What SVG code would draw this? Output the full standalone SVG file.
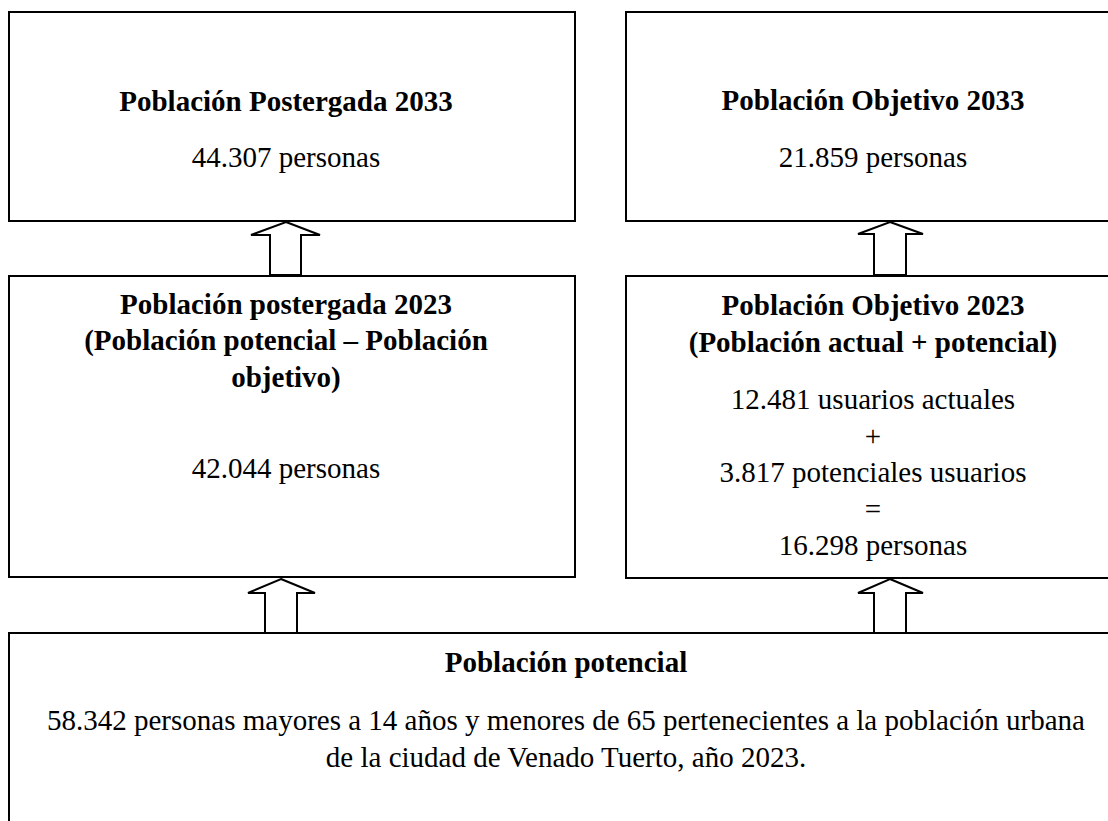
<svg xmlns="http://www.w3.org/2000/svg" width="1108" height="821" viewBox="0 0 1108 821">
<style>
.box{fill:#fff;stroke:#000;stroke-width:2}
.arr{fill:#fff;stroke:#000;stroke-width:2;stroke-linejoin:miter}
.t{font-family:"Liberation Serif","Times New Roman",serif;font-size:29px;fill:#000;text-anchor:middle}
.b{font-weight:bold}
</style>
<rect width="1108" height="821" fill="#fff"/>
<g id="node-postergada-2033">
<rect class="box" x="9" y="12" width="566" height="209"/>
<text class="t b" x="286" y="111">Población Postergada 2033</text>
<text class="t" x="286" y="167">44.307 personas</text>
</g>
<g id="node-objetivo-2033">
<rect class="box" x="626" y="12" width="500" height="209"/>
<text class="t b" x="873" y="110">Población Objetivo 2033</text>
<text class="t" x="873" y="167">21.859 personas</text>
</g>
<g id="node-postergada-2023">
<rect class="box" x="9" y="276" width="566" height="301"/>
<text class="t b" x="286" y="314">Población postergada 2023</text>
<text class="t b" x="286" y="350">(Población potencial – Población</text>
<text class="t b" x="286" y="387">objetivo)</text>
<text class="t" x="286" y="478">42.044 personas</text>
</g>
<g id="node-objetivo-2023">
<rect class="box" x="626" y="276" width="500" height="302"/>
<text class="t b" x="873" y="315">Población Objetivo 2023</text>
<text class="t b" x="873" y="352">(Población actual + potencial)</text>
<text class="t" x="873" y="409">12.481 usuarios actuales</text>
<text class="t" x="873" y="446">+</text>
<text class="t" x="873" y="482">3.817 potenciales usuarios</text>
<text class="t" x="873" y="519">=</text>
<text class="t" x="873" y="555">16.298 personas</text>
</g>
<g id="node-potencial">
<rect class="box" x="9" y="633" width="1120" height="200"/>
<text class="t b" x="566" y="672">Población potencial</text>
<text class="t" x="566" y="730">58.342 personas mayores a 14 años y menores de 65 pertenecientes a la población urbana</text>
<text class="t" x="566" y="767">de la ciudad de Venado Tuerto, año 2023.</text>
</g>
<g id="connectors">
<polygon class="arr" points="286,222 320,235 301,235 301,275 270,275 270,235 251,235"/>
<polygon class="arr" points="890,222 923,234 906,234 906,275 874,275 874,234 858,234"/>
<polygon class="arr" points="281,579 315,593 297,593 297,633 265,633 265,593 248,593"/>
<polygon class="arr" points="890,579 923,593 906,593 906,633 874,633 874,593 858,593"/>
</g>
</svg>
